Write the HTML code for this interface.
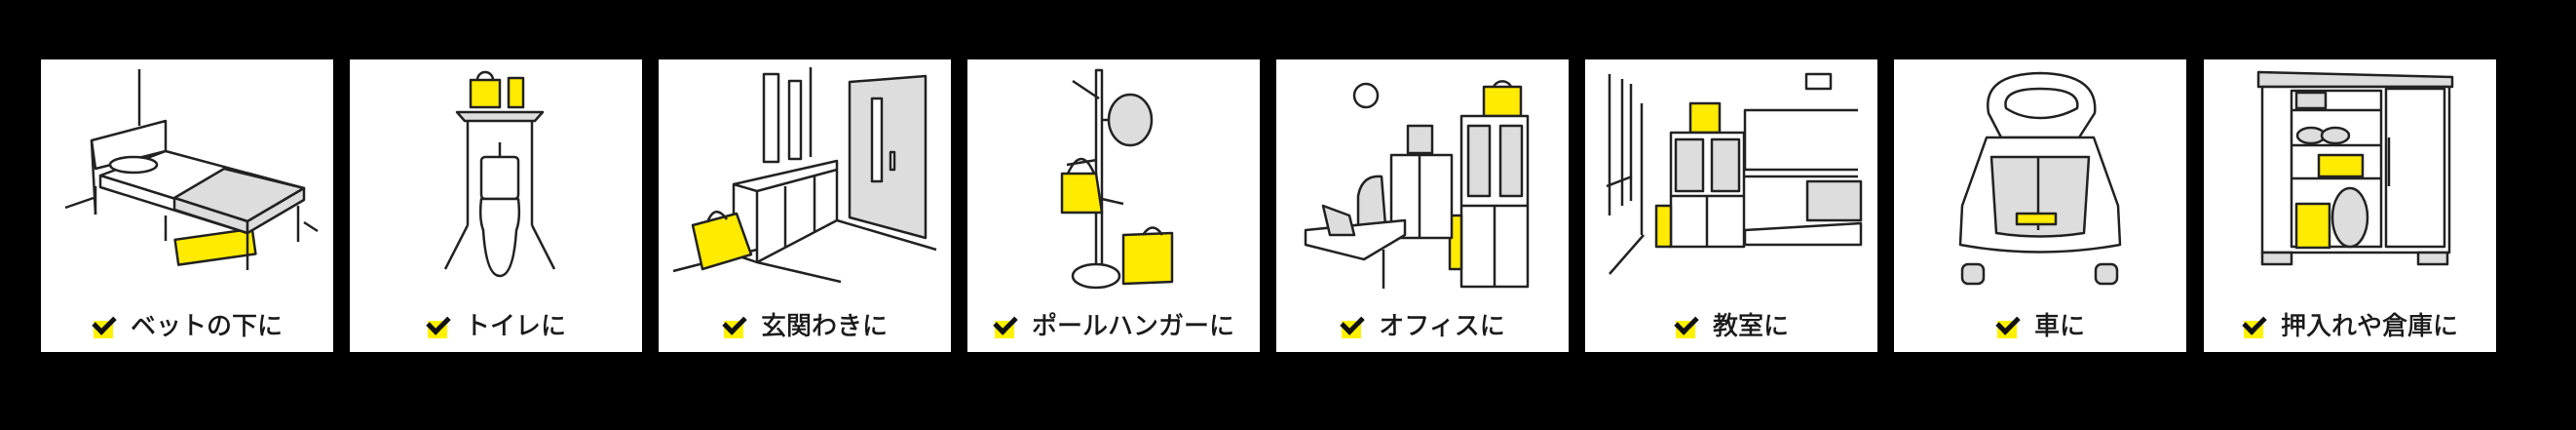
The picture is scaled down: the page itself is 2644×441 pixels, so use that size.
<!DOCTYPE html>
<html><head><meta charset="utf-8"><style>
html,body{margin:0;padding:0;background:#000;}
body{width:2644px;height:441px;position:relative;overflow:hidden;font-family:"Liberation Sans","Noto Sans CJK JP",sans-serif;}
.p{position:absolute;top:61px;width:300px;height:300px;background:#fff;}
.p svg{position:absolute;left:0;top:0;}
.lab{position:absolute;left:0;width:300px;top:253px;text-align:center;font-size:26px;color:#1a1a1a;white-space:nowrap;-webkit-text-stroke:0.6px #1a1a1a;}
.ck{display:inline-block;width:26px;height:26px;vertical-align:-4px;margin-right:14px;position:relative;}
.ck:before{content:"";position:absolute;left:2px;top:8px;width:20px;height:18px;background:#fff200;}
.ck:after{content:"";position:absolute;left:6px;top:-1px;width:9px;height:17px;border-right:5px solid #111;border-bottom:5px solid #111;transform:rotate(45deg);}
</style></head><body>

<div class="p" style="left:42px"><svg width="300" height="300" fill="none" stroke="#222" stroke-width="2.5" stroke-linejoin="round">
<line x1="101" y1="10" x2="101" y2="68"/>
<line x1="25" y1="152" x2="54" y2="142"/><line x1="270" y1="167" x2="284" y2="176"/>
<line x1="56" y1="130" x2="56" y2="159"/><line x1="128" y1="160" x2="128" y2="186"/><line x1="264" y1="150" x2="264" y2="187"/>
<polygon points="52,83 128,63 128,94 56,112" fill="#fff"/>
<line x1="52" y1="83" x2="56" y2="159"/>
<rect x="139" y="179" width="80" height="26" fill="#ffeb00" transform="rotate(-8 180 192)"/>
<polygon points="61,119 128,94 270,132 212,166" fill="#fff"/>
<polygon points="137,142 188,112 270,132 212,166" fill="#ddd"/>
<polygon points="61,119 212,166 212,178 61,131" fill="#fff"/>
<polygon points="137,142 212,166 212,178 137,154" fill="#ddd"/>
<polygon points="212,166 270,132 270,144 212,178" fill="#ddd"/>
<line x1="212" y1="178" x2="212" y2="216"/>
<ellipse cx="95" cy="108" rx="24" ry="8" fill="#fff"/>
</svg><div class="lab"><span class="ck"></span>ベットの下に</div></div>

<div class="p" style="left:359px"><svg width="300" height="300" fill="none" stroke="#222" stroke-width="2.5" stroke-linejoin="round">
<rect x="124" y="21" width="30" height="28" fill="#ffeb00"/><path d="M131,21 a8,8 0 0 1 16,0"/>
<rect x="163" y="19" width="15" height="30" fill="#ffeb00"/>
<polygon points="110,54 198,54 190,63 118,63" fill="#ddd"/>
<line x1="121" y1="63" x2="121" y2="170"/><line x1="187" y1="63" x2="187" y2="170"/>
<line x1="121" y1="170" x2="98" y2="215"/><line x1="187" y1="170" x2="210" y2="215"/>
<rect x="135" y="100" width="38" height="43" rx="4" fill="#fff"/>
<line x1="154" y1="85" x2="154" y2="100"/>
<path d="M135,143 Q130,185 154,190 Q178,185 173,143Z" fill="#fff"/>
<path d="M137,175 Q140,222 154,222 Q168,222 171,175" fill="#fff"/>
</svg><div class="lab"><span class="ck"></span>トイレに</div></div>

<div class="p" style="left:676px"><svg width="300" height="300" fill="none" stroke="#222" stroke-width="2.5" stroke-linejoin="round">
<rect x="108" y="15" width="15" height="90"/><rect x="134" y="22" width="12" height="80"/>
<line x1="156" y1="8" x2="156" y2="100"/>
<polygon points="196,23 274,17 274,183 196,162" fill="#ddd"/>
<rect x="219" y="40" width="10" height="85" fill="#fff"/><rect x="238" y="95" width="4" height="18" fill="#fff"/>
<polygon points="77,128 183,104 183,165 101,208 77,200" fill="#fff"/>
<line x1="77" y1="128" x2="101" y2="135"/><line x1="101" y1="135" x2="101" y2="208"/><line x1="101" y1="135" x2="183" y2="113"/>
<line x1="130" y1="130" x2="130" y2="193"/><line x1="160" y1="120" x2="160" y2="177"/>
<line x1="15" y1="217" x2="101" y2="195"/><line x1="101" y1="208" x2="187" y2="228"/><line x1="183" y1="165" x2="285" y2="195"/>
<polygon points="35,170 80,158 95,200 45,215" fill="#ffeb00"/><path d="M50,167 q8,-20 20,-3"/>
</svg><div class="lab"><span class="ck"></span>玄関わきに</div></div>

<div class="p" style="left:993px"><svg width="300" height="300" fill="none" stroke="#222" stroke-width="2.5" stroke-linejoin="round">
<rect x="132" y="11" width="6" height="205" fill="#fff"/>
<line x1="108" y1="22" x2="135" y2="40"/><line x1="138" y1="62" x2="155" y2="62"/>
<line x1="102" y1="108" x2="133" y2="103"/><line x1="138" y1="143" x2="160" y2="148"/>
<ellipse cx="132" cy="222" rx="24" ry="12" fill="#fff"/>
<ellipse cx="167" cy="62" rx="22" ry="26" fill="#ddd"/>
<polygon points="97,117 132,117 138,157 97,157" fill="#ffeb00"/><path d="M103,117 q14,-30 27,0"/>
<polygon points="160,180 210,178 210,228 160,230" fill="#ffeb00"/><path d="M180,180 q10,-15 20,0"/>
</svg><div class="lab"><span class="ck"></span>ポールハンガーに</div></div>

<div class="p" style="left:1310px"><svg width="300" height="300" fill="none" stroke="#222" stroke-width="2.5" stroke-linejoin="round">
<circle cx="92" cy="37" r="12" fill="#fff"/>
<rect x="213" y="28" width="38" height="30" fill="#ffeb00"/><path d="M223,28 a10,10 0 0 1 18,0"/>
<rect x="190" y="58" width="68" height="175" fill="#fff"/>
<rect x="197" y="68" width="22" height="72" fill="#ddd"/><rect x="230" y="68" width="22" height="72" fill="#ddd"/>
<line x1="190" y1="150" x2="258" y2="150"/><line x1="224" y1="150" x2="224" y2="233"/>
<rect x="178" y="160" width="12" height="55" fill="#ffeb00"/>
<rect x="118" y="98" width="62" height="85" fill="#fff"/><line x1="147" y1="98" x2="147" y2="183"/>
<rect x="135" y="68" width="25" height="28" fill="#ddd"/>
<path d="M84,140 Q88,118 108,120 L112,170 L84,170Z" fill="#ddd"/>
<polygon points="30,175 132,165 132,180 90,205 30,190" fill="#fff"/>
<polygon points="48,150 75,160 80,180 55,180" fill="#ddd"/>
<line x1="110" y1="195" x2="110" y2="235"/>
</svg><div class="lab"><span class="ck"></span>オフィスに</div></div>

<div class="p" style="left:1627px"><svg width="300" height="300" fill="none" stroke="#222" stroke-width="2.5" stroke-linejoin="round">
<line x1="25" y1="15" x2="25" y2="160"/><line x1="38" y1="20" x2="38" y2="150"/><line x1="47" y1="25" x2="47" y2="145"/>
<line x1="22" y1="130" x2="48" y2="120"/><line x1="58" y1="45" x2="58" y2="180"/>
<line x1="60" y1="180" x2="25" y2="220"/>
<rect x="227" y="15" width="25" height="15" fill="#fff"/>
<polyline points="280,52 164,52 164,113 280,113"/><line x1="164" y1="120" x2="280" y2="120"/>
<rect x="108" y="45" width="30" height="30" fill="#ffeb00"/>
<rect x="88" y="75" width="75" height="117" fill="#fff"/>
<rect x="93" y="82" width="28" height="53" fill="#ddd"/><rect x="130" y="82" width="28" height="53" fill="#ddd"/>
<line x1="88" y1="140" x2="163" y2="140"/><line x1="125" y1="140" x2="125" y2="192"/>
<rect x="73" y="150" width="15" height="42" fill="#ffeb00"/>
<rect x="228" y="125" width="55" height="40" fill="#ddd"/>
<polygon points="164,175 283,168 283,190 164,190" fill="#fff"/>
</svg><div class="lab"><span class="ck"></span>教室に</div></div>

<div class="p" style="left:1944px"><svg width="300" height="300" fill="none" stroke="#222" stroke-width="2.5" stroke-linejoin="round">
<path d="M97,55 Q90,15 150,14 Q210,15 206,55 L190,80 L110,80Z" fill="#fff"/>
<path d="M115,50 Q110,30 150,30 Q192,30 188,50 Q170,60 150,60 Q130,60 115,50Z" fill="#fff"/>
<path d="M95,80 L70,150 L68,190 Q150,205 232,190 L230,150 L205,80Z" fill="#fff"/>
<path d="M100,100 L200,100 L195,178 Q150,185 105,178Z" fill="#ddd"/>
<line x1="148" y1="100" x2="148" y2="175"/>
<rect x="126" y="158" width="40" height="11" fill="#ffeb00"/>
<rect x="70" y="210" width="22" height="20" rx="6" fill="#ddd"/><rect x="207" y="210" width="22" height="20" rx="6" fill="#ddd"/>
</svg><div class="lab"><span class="ck"></span>車に</div></div>

<div class="p" style="left:2262px"><svg width="300" height="300" fill="none" stroke="#222" stroke-width="2.5" stroke-linejoin="round">
<polygon points="56,13 255,18 255,28 56,28" fill="#ddd"/>
<rect x="60" y="28" width="192" height="170" fill="#fff"/>
<rect x="90" y="32" width="92" height="160" fill="#fff"/>
<rect x="187" y="30" width="60" height="162" fill="#fff"/>
<line x1="190" y1="80" x2="190" y2="130"/>
<line x1="90" y1="52" x2="182" y2="52"/><line x1="90" y1="88" x2="182" y2="88"/><line x1="90" y1="122" x2="182" y2="122"/>
<rect x="95" y="34" width="30" height="16" fill="#ddd"/>
<ellipse cx="110" cy="78" rx="14" ry="8" fill="#ddd"/><ellipse cx="135" cy="78" rx="14" ry="8" fill="#ddd"/>
<rect x="118" y="98" width="45" height="22" fill="#ffeb00"/>
<rect x="95" y="148" width="34" height="45" fill="#ffeb00"/>
<ellipse cx="150" cy="162" rx="18" ry="30" fill="#ddd"/>
<rect x="60" y="198" width="30" height="12" fill="#ddd"/><rect x="220" y="198" width="30" height="12" fill="#ddd"/>
</svg><div class="lab"><span class="ck"></span>押入れや倉庫に</div></div>
</body></html>
